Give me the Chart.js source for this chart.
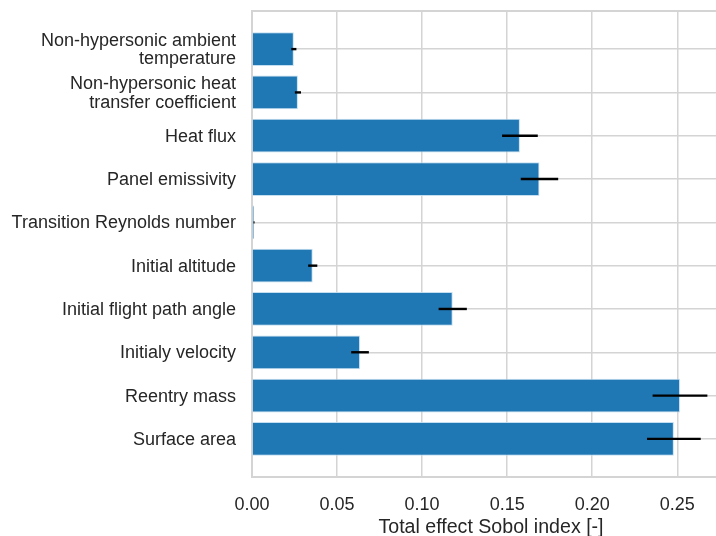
<!DOCTYPE html>
<html>
<head>
<meta charset="utf-8">
<script src="https://cdn.jsdelivr.net/npm/chart.js@4.4.1/dist/chart.umd.min.js"></script>
<style>
  html, body { margin: 0; padding: 0; background: #ffffff; overflow: hidden; }
  #wrap { width: 730px; height: 536px; }
</style>
</head>
<body>
<div id="wrap"><canvas id="c" width="730" height="536"></canvas></div>
<script>
// Input parameters (top to bottom)
const parameters = [
  ['Non-hypersonic ambient', 'temperature'],
  ['Non-hypersonic heat', 'transfer coefficient'],
  'Heat flux',
  'Panel emissivity',
  'Transition Reynolds number',
  'Initial altitude',
  'Initial flight path angle',
  'Initialy velocity',
  'Reentry mass',
  'Surface area'
];

// Total effect Sobol indices and their confidence half-widths
const sobolTotal = [0.0246, 0.0270, 0.1575, 0.1690, 0.0012, 0.0357, 0.1180, 0.0635, 0.2516, 0.2480];
const sobolConf  = [0.0015, 0.0018, 0.0105, 0.0110, 0.0003, 0.0027, 0.0083, 0.0052, 0.0161, 0.0158];

const xTicks = [0, 0.05, 0.10, 0.15, 0.20, 0.25];

const GRID = '#d4d4d4';
const TEXT = '#262626';
const FONT = "'Liberation Sans', Arial, sans-serif";

// Horizontal error bars drawn from the confidence intervals
const errorBars = {
  id: 'errorBars',
  afterDatasetsDraw(chart) {
    const {ctx, scales: {x, y}} = chart;
    ctx.save();
    ctx.strokeStyle = '#000000';
    ctx.lineWidth = 2.4;
    ctx.lineCap = 'butt';
    sobolTotal.forEach((v, i) => {
      const py = y.getPixelForValue(i);
      ctx.beginPath();
      ctx.moveTo(x.getPixelForValue(v - sobolConf[i]), py);
      ctx.lineTo(x.getPixelForValue(v + sobolConf[i]), py);
      ctx.stroke();
    });
    ctx.restore();
  }
};

// Light frame around the plotting area
const frame = {
  id: 'frame',
  beforeDatasetsDraw(chart) {
    const {ctx, chartArea: a} = chart;
    ctx.save();
    ctx.strokeStyle = GRID;
    ctx.lineWidth = 2;
    ctx.strokeRect(a.left, a.top, a.right - a.left, a.bottom - a.top);
    ctx.restore();
  }
};

new Chart(document.getElementById('c'), {
  type: 'bar',
  data: {
    datasets: [{
      data: sobolTotal.map((v, i) => ({x: v, y: i})),
      backgroundColor: '#1f77b4',
      borderColor: 'rgba(190,220,240,0.9)',
      borderWidth: 1,
      borderSkipped: 'start',
      barPercentage: 0.78,
      categoryPercentage: 1.0
    }]
  },
  options: {
    indexAxis: 'y',
    responsive: false,
    animation: false,
    events: [],
    layout: { padding: { top: 11, left: 0, right: 0, bottom: 0 } },
    plugins: { legend: { display: false }, tooltip: { enabled: false } },
    scales: {
      x: {
        type: 'linear',
        position: 'bottom',
        min: 0,
        max: 0.281,
        afterBuildTicks: (s) => { s.ticks = xTicks.map(v => ({value: v})); },
        afterFit: (s) => { s.height = 59; s.paddingLeft = 0; s.paddingRight = 0; },
        grid: { color: GRID, lineWidth: 1.5, drawTicks: false },
        border: { display: false },
        ticks: {
          padding: 17,
          color: TEXT,
          font: { family: FONT, size: 18 },
          callback: (v) => Number(v).toFixed(2)
        },
        title: {
          display: true,
          text: 'Total effect Sobol index [-]',
          color: TEXT,
          font: { family: FONT, size: 19.6 },
          padding: { top: 0, bottom: -3 }
        }
      },
      y: {
        type: 'linear',
        reverse: true,
        offset: false,
        min: -0.88,
        max: 9.88,
        afterBuildTicks: (s) => { s.ticks = parameters.map((_, i) => ({value: i})); },
        afterFit: (s) => { s.width = 252; s.paddingTop = 0; s.paddingBottom = 0; },
        grid: { color: GRID, lineWidth: 1.5, drawTicks: false, offset: false },
        border: { display: false },
        ticks: {
          padding: 16,
          labelOffset: 1,
          color: TEXT,
          font: { family: FONT, size: 18, lineHeight: 1.04 },
          callback: (v) => parameters[v]
        }
      }
    }
  },
  plugins: [frame, errorBars]
});
</script>
</body>
</html>
